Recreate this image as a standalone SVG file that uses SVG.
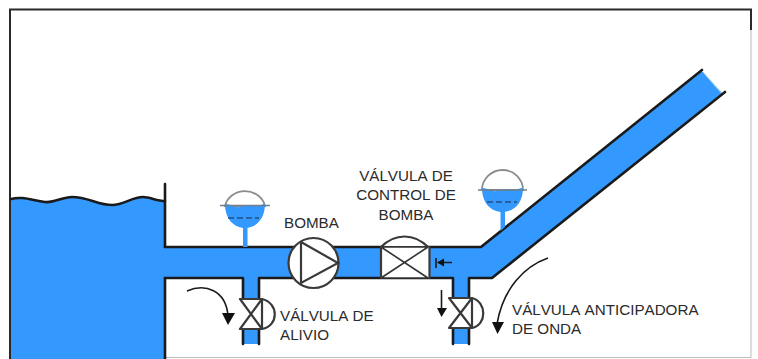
<svg xmlns="http://www.w3.org/2000/svg" width="758" height="359" viewBox="0 0 758 359">
  <style>
    .water { fill: #3399ff; stroke: none; }
    .wall { fill: none; stroke: #1a1a1a; stroke-width: 2.6; stroke-linecap: round; stroke-linejoin: round; }
    .sym { fill: #fff; stroke: #3a3a3a; stroke-width: 2.2; stroke-linejoin: round; }
    .symline { fill: none; stroke: #3a3a3a; stroke-width: 2.2; stroke-linecap: round; }
    .thin { fill: none; stroke: #333; stroke-width: 1.6; stroke-linecap: round; }
    .dome { fill: #fff; stroke: #8c8c8c; stroke-width: 1.8; }
    .flange { fill: none; stroke: #6f7f8f; stroke-width: 1.6; }
    .dash { fill: none; stroke: #25507f; stroke-width: 1.4; stroke-dasharray: 6 3; }
    .flow { fill: none; stroke: #1a1a1a; stroke-width: 1.6; }
    .head { fill: #111; stroke: none; }
    text { font-family: "Liberation Sans", Arial, sans-serif; font-size: 15.2px; font-kerning: none; fill: #2a2a2a; }
  </style>
  <rect width="758" height="359" fill="#fff"/>

  <g id="frame">
    <path d="M10.500 357.500H751V9.500H10.500Z" fill="none" stroke="#bbb" stroke-width="1"/>
    <path d="M10 359V9.500H751V30" fill="none" stroke="#2a2a2a" stroke-width="2"/>
  </g>

  <g id="reservoir">
    <path class="water" d="M11 199C22 196 31 200 45 202C55 203 62 197 72 197C88 197 98 205 112 205C124 205 132 197 143 197C150 197 157 201 165 201V359H11Z"/>
    <path class="wall" d="M11 199C22 196 31 200 45 202C55 203 62 197 72 197C88 197 98 205 112 205C124 205 132 197 143 197C150 197 157 201 165 201"/>
    <path class="wall" d="M165 184V247"/>
    <path class="wall" d="M165 278V359"/>
  </g>

  <g id="connectors">
    <path class="water" d="M165 247H481L702 71L722 93L492 278H469V298H453V278H259V298H243V278H165Z"/>
    <rect class="water" x="243" y="329" width="16" height="15"/>
    <rect class="water" x="453" y="329" width="16" height="15"/>
    <path class="wall" d="M165 247H481L702 70"/>
    <path class="wall" d="M165 278H243V299"/>
    <path class="wall" d="M259 299V278H453V298"/>
    <path class="wall" d="M469 298V278H492L725 92"/>
    <path class="wall" d="M243 329V344M259 329V344"/>
    <path class="wall" d="M453 329V344M469 329V344"/>
    <path d="M702 71L721 93" fill="none" stroke="#9ccbf5" stroke-width="1"/>
  </g>

  <g id="gauge-suction">
    <rect class="water" x="243" y="226" width="4.500" height="21"/>
    <path class="dome" d="M225 206A20.500 19 0 0 1 265 206Z"/>
    <path class="water" d="M225 204C231 204 235 208 240 207C245 206 250 204 255 206C259 207 262 204 265 204C265 219 256 228 245 228C234 228 225 219 225 204Z"/>
    <path class="flange" d="M220 205.500H270"/>
    <path class="dash" d="M228 218H259"/>
  </g>

  <g id="gauge-discharge">
    <path class="water" d="M500.500 210H505V227L500.500 231Z"/>
    <path class="dome" d="M482 190A20.500 20 0 0 1 523 190Z"/>
    <path class="water" d="M482 188C488 188 492 192 497 191C502 190 507 188 512 190C516 191 519 188 523 188C523 203 514 212 502.500 212C491 212 482 203 482 188Z"/>
    <path class="flange" d="M478 190H527"/>
    <path class="dash" d="M487 202H517"/>
  </g>

  <g id="bomba">
    <circle class="sym" cx="313.500" cy="263" r="25"/>
    <path class="symline" d="M301 242V283L338 263L301 242"/>
    <text x="284" y="228">BOMBA</text>
  </g>

  <g id="valvula-control">
    <path class="sym" d="M381 247C395 233 414 233 428 247Z"/>
    <rect x="381" y="247" width="48" height="31" fill="#fff"/>
    <path class="thin" d="M381 247H428M381 278H428M381 247L428 278M428 247L381 278"/>
    <path class="symline" d="M381 247V278M429.500 247V278"/>
    <text text-anchor="middle" x="406" y="181">VÁLVULA DE</text>
    <text text-anchor="middle" x="406" y="200">CONTROL DE</text>
    <text text-anchor="middle" x="406" y="220">BOMBA</text>
  </g>

  <g id="valvula-alivio">
    <path class="sym" d="M262 299C279 303 279 326 262 329Z"/>
    <path class="sym" d="M240 299H262L240 329H262Z"/>
    <text x="280" y="321">VÁLVULA DE</text>
    <text x="280" y="340">ALIVIO</text>
  </g>

  <g id="valvula-anticipadora">
    <path class="sym" d="M472 298C487 302 487 325 472 328Z"/>
    <path class="sym" d="M449 298H472L449 328H472Z"/>
    <text x="512" y="315">VÁLVULA ANTICIPADORA</text>
    <text x="512" y="334">DE ONDA</text>
  </g>

  <g id="flechas-flujo">
    <path class="flow" d="M187 291C205 283 226 290 228 316"/>
    <path class="head" d="M222 313H235L228 325Z"/>
    <path class="flow" d="M548 258C525 266 503 288 497 324"/>
    <path class="head" d="M492 322H504L497.500 334Z"/>
    <path class="flow" d="M441.500 290V310"/>
    <path class="head" d="M437 308H447L441.500 317Z"/>
    <path class="flow" d="M436 258V268M438 262.500H452"/>
    <path class="head" d="M437 262.500L444 258.500V266.500Z"/>
  </g>
</svg>
